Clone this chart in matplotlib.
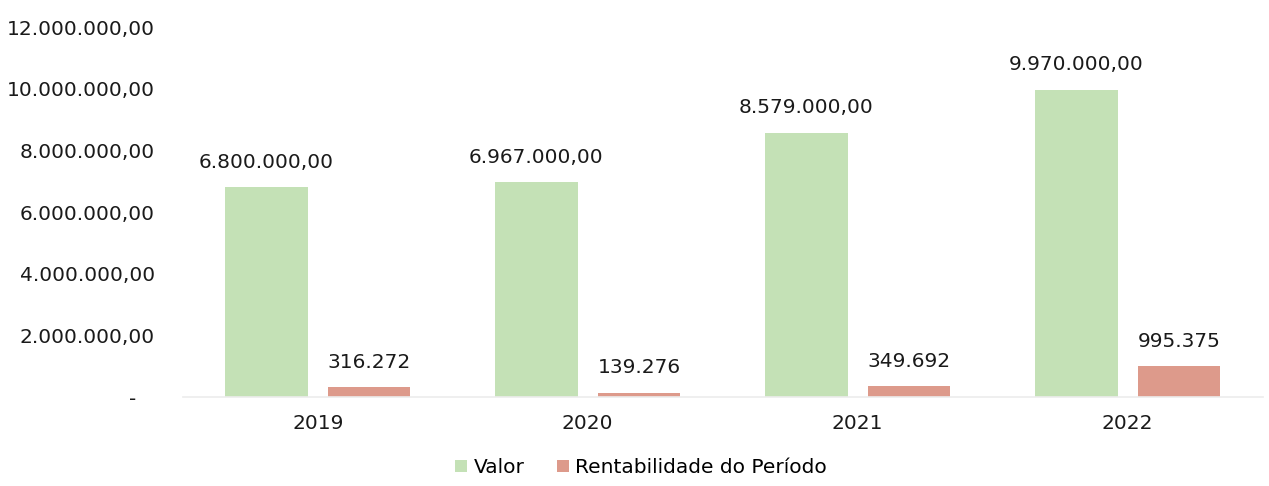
import matplotlib.pyplot as plt
import numpy as np

anos = ['2019', '2020', '2021', '2022']
valor = [6800000.00, 6967000.00, 8579000.00, 9970000.00]
rentabilidade = [316272, 139276, 349692, 995375]
yticks = [0, 2000000, 4000000, 6000000, 8000000, 10000000, 12000000]

verde = '#c4e1b6'
salmao = '#dd9a8b'


def fmt_br(v, dec=2):
    s = f'{v:,.{dec}f}'
    return s.replace(',', 'X').replace('.', ',').replace('X', '.')


plt.rcParams['font.family'] = ['DejaVu Sans']

fig = plt.figure(figsize=(12.69, 4.86), dpi=100)
ax = fig.add_axes([0.144, 0.183, 0.851, 0.761])

x = np.arange(len(anos))
w = 0.305
off = 0.19
b1 = ax.bar(x - off, valor, w, color=verde, label='Valor')
b2 = ax.bar(x + off, rentabilidade, w, color=salmao, label='Rentabilidade do Período')

for xi, v in zip(x, valor):
    ax.annotate(fmt_br(v), (xi - off, v), xytext=(0, 18), textcoords='offset points',
                ha='center', va='center', fontsize=14.5, color='#1a1a1a')
for xi, v in zip(x, rentabilidade):
    ax.annotate(fmt_br(v, 0), (xi + off, v), xytext=(0, 18), textcoords='offset points',
                ha='center', va='center', fontsize=14.5, color='#1a1a1a')

ax.set_xlim(-0.5, len(anos) - 0.5)
ax.set_ylim(0, 12000000)
ax.set_xticks(x)
ax.set_xticklabels(anos, fontsize=14.5, color='#1a1a1a')
ax.set_yticks(yticks)
ax.set_yticklabels(['-   '] + [fmt_br(v) for v in yticks[1:]], fontsize=14.5, color='#1a1a1a')
ax.tick_params(axis='y', length=0, pad=20)
ax.tick_params(axis='x', length=0, pad=12)

for s in ['top', 'right', 'left']:
    ax.spines[s].set_visible(False)
ax.spines['bottom'].set_color('#ececec')
ax.spines['bottom'].set_linewidth(1.2)

fig.legend(handles=[b1, b2], loc='center', bbox_to_anchor=(0.505, 0.038), ncol=2,
           frameon=False, fontsize=14.5, handlelength=0.6, handleheight=0.6,
           handletextpad=0.3, columnspacing=1.6)

fig.savefig('out.png', dpi=100)
